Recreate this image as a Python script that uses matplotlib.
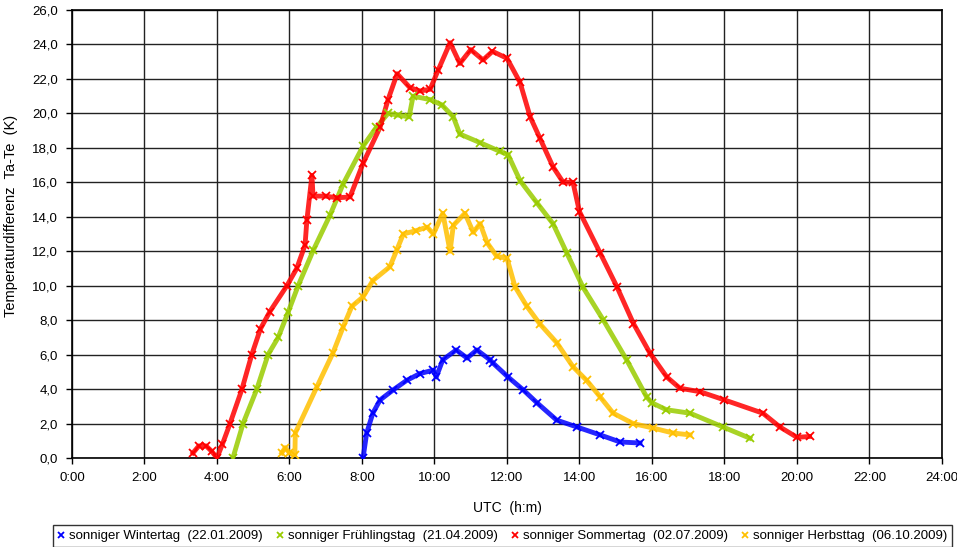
import matplotlib
matplotlib.use("Agg")
import matplotlib.pyplot as plt
from matplotlib.ticker import FuncFormatter, MultipleLocator

plt.rcParams['font.family'] = ['Liberation Sans', 'DejaVu Sans']

# time in hours UTC, temperature difference Ta-Te in K
winter_t = [8.03, 8.13, 8.3, 8.5, 8.86, 9.23, 9.6, 9.97, 10.05, 10.23, 10.6, 10.9,
            11.17, 11.53, 11.62, 12.03, 12.45, 12.83, 13.37, 13.93, 14.57, 15.12, 15.67]
winter_v = [0.0, 1.45, 2.6, 3.37, 3.95, 4.5, 4.9, 5.1, 4.7, 5.7, 6.27, 5.8,
            6.27, 5.7, 5.5, 4.7, 3.95, 3.2, 2.2, 1.8, 1.34, 0.93, 0.87]

spring_t = [4.44, 4.72, 5.1, 5.41, 5.69, 5.97, 6.24, 6.66, 7.12, 7.48, 8.03, 8.4,
            8.72, 9.0, 9.3, 9.41, 9.88, 10.2, 10.52, 10.7, 11.26, 11.8, 12.03, 12.36,
            12.83, 13.27, 13.65, 14.1, 14.66, 15.3, 15.85, 16.0, 16.4, 17.05, 17.96, 18.7]
spring_v = [0.0, 2.0, 4.0, 6.0, 7.0, 8.5, 10.0, 12.07, 14.1, 15.9, 18.1, 19.2,
            20.0, 19.9, 19.8, 21.0, 20.8, 20.5, 19.8, 18.8, 18.3, 17.8, 17.6, 16.1,
            14.8, 13.6, 11.9, 9.9, 8.0, 5.7, 3.55, 3.2, 2.8, 2.6, 1.8, 1.15]

summer_t = [3.34, 3.5, 3.7, 3.85, 4.0, 4.15, 4.36, 4.69, 4.96, 5.2, 5.46, 5.93,
            6.2, 6.43, 6.48, 6.62, 6.65, 7.0, 7.3, 7.67, 8.03, 8.5, 8.72, 8.97,
            9.32, 9.6, 9.88, 10.1, 10.43, 10.7, 11.0, 11.34, 11.6, 12.0, 12.36, 12.64,
            12.9, 13.27, 13.55, 13.82, 14.0, 14.57, 15.03, 15.49, 15.94, 16.41, 16.77,
            17.32, 18.0, 19.06, 19.53, 20.0, 20.35]
summer_v = [0.3, 0.7, 0.7, 0.4, 0.0, 0.8, 2.0, 4.0, 6.0, 7.5, 8.5, 10.0,
            11.0, 12.36, 13.8, 16.4, 15.2, 15.2, 15.1, 15.15, 17.1, 19.2, 20.8, 22.3,
            21.5, 21.3, 21.4, 22.5, 24.1, 22.9, 23.7, 23.1, 23.6, 23.2, 21.8, 19.8,
            18.6, 16.9, 16.0, 16.0, 14.3, 11.9, 9.95, 7.8, 6.1, 4.7, 4.05,
            3.85, 3.37, 2.6, 1.8, 1.2, 1.25]

autumn_t = [5.79, 5.88, 6.0, 6.15, 6.16, 6.75, 7.2, 7.48, 7.72, 8.03, 8.3, 8.77,
            8.96, 9.14, 9.5, 9.8, 9.97, 10.23, 10.43, 10.52, 10.84, 11.07, 11.26, 11.45,
            11.72, 12.0, 12.22, 12.55, 12.9, 13.37, 13.82, 14.2, 14.57, 14.93, 15.48,
            16.03, 16.58, 17.05]
autumn_v = [0.3, 0.6, 0.3, 0.2, 1.45, 4.1, 6.1, 7.6, 8.8, 9.35, 10.3, 11.1,
            12.07, 13.0, 13.2, 13.4, 13.0, 14.2, 12.0, 13.5, 14.2, 13.1, 13.6, 12.5,
            11.7, 11.6, 9.95, 8.8, 7.8, 6.7, 5.3, 4.5, 3.55, 2.6, 2.0,
            1.74, 1.45, 1.34]

labels = ['sonniger Wintertag  (22.01.2009)', 'sonniger Frühlingstag  (21.04.2009)',
          'sonniger Sommertag  (02.07.2009)', 'sonniger Herbsttag  (06.10.2009)']
colors = ['#0000ff', '#99cc00', '#ff0000', '#ffc000']

fig = plt.figure(figsize=(9.57, 5.47), dpi=100)
ax = fig.add_axes([0.0752, 0.1627, 0.9091, 0.819])

series = [(winter_t, winter_v), (spring_t, spring_v),
          (summer_t, summer_v), (autumn_t, autumn_v)]
handles = []
for (t, v), c, lab in zip(series, colors, labels):
    ax.plot(t, v, '-', color=c, lw=3.5, alpha=0.85, zorder=3)
    h, = ax.plot(t, v, 'x', color=c, ms=6, mew=1.3, label=lab, zorder=4)
    handles.append(h)

ax.set_xlim(0, 24)
ax.set_ylim(0, 26)
ax.xaxis.set_major_locator(MultipleLocator(2))
ax.yaxis.set_major_locator(MultipleLocator(2))
ax.xaxis.set_major_formatter(FuncFormatter(lambda x, p: '%d:00' % int(round(x))))
ax.yaxis.set_major_formatter(FuncFormatter(lambda y, p: ('%.1f' % y).replace('.', ',')))
ax.grid(True, color='#222222', lw=1.0)
ax.set_axisbelow(True)
for s in ax.spines.values():
    s.set_color('black')
    s.set_linewidth(1.2)
ax.tick_params(direction='out', length=4, width=1, labelsize=9.5, pad=6)

ax.set_xlabel('UTC  (h:m)', fontsize=10, labelpad=12)
ax.set_ylabel('Temperaturdifferenz  Ta-Te  (K)', fontsize=10.5, labelpad=6)
ax.yaxis.set_label_coords(-0.062, 0.54)

leg = fig.legend(handles=handles, loc='lower center', bbox_to_anchor=(0.525, -0.012),
                 ncol=4, fontsize=9.5, frameon=True, fancybox=False,
                 edgecolor='black', handlelength=0.6, handletextpad=0.3,
                 columnspacing=1.0, borderpad=0.35, markerscale=0.8)
leg.get_frame().set_linewidth(1.0)

fig.savefig('out.png', dpi=100)
